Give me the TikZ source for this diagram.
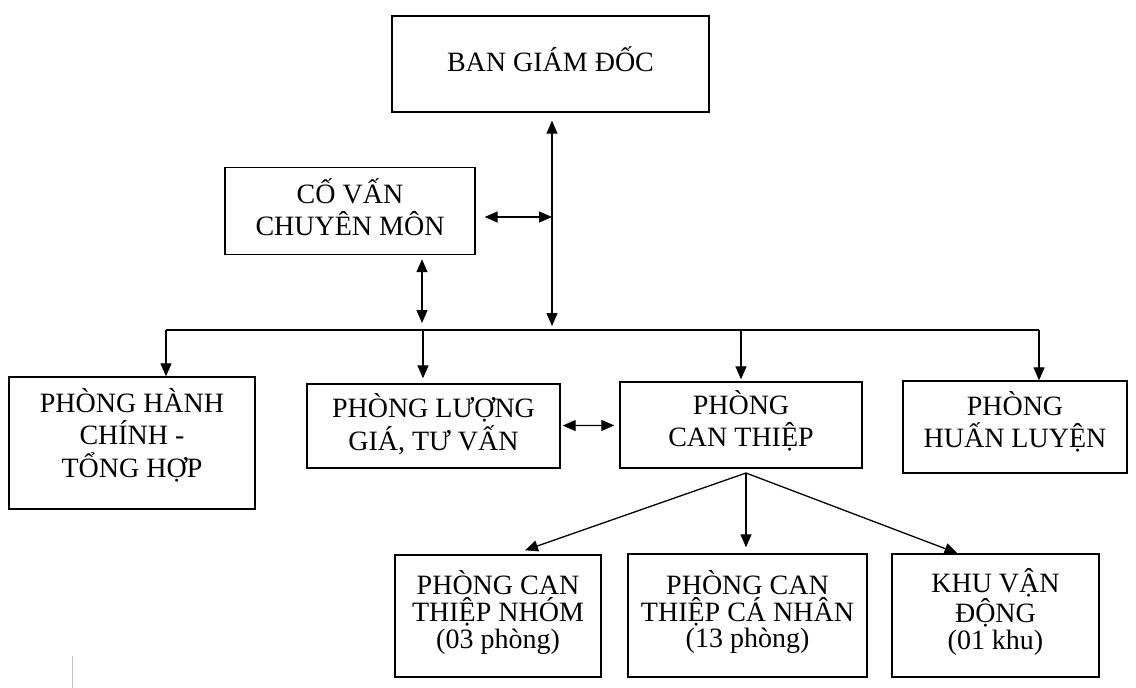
\documentclass[tikz,border=0pt]{standalone}
\usepackage{fontspec}
\setmainfont{Liberation Serif}
\usetikzlibrary{arrows.meta}
\begin{document}
\begin{tikzpicture}[x=1pt,y=-1pt,
    >={Triangle[length=13pt,width=11pt]},
    box/.style={draw,line width=1.4pt,align=center,inner sep=0pt,
      font=\fontsize{28}{32.5}\selectfont},
    smallbox/.style={box,font=\fontsize{28}{26.7}\selectfont,text depth=13pt},
    link/.style={line width=1.3pt}]
  \useasboundingbox (0,0) rectangle (1136,688);
  \draw
    (550.5,64) node[box,minimum width=317pt,minimum height=96pt,text depth=10pt] (bgd) {BAN GIÁM ĐỐC}
    (350,211) node[box,minimum width=250pt,minimum height=87pt,text depth=8pt] (cv) {CỐ VẤN\\CHUYÊN MÔN}
    (132,443) node[box,minimum width=246pt,minimum height=132pt,text depth=21pt] (hc) {PHÒNG HÀNH\\CHÍNH -\\TỔNG HỢP}
    (433.5,426) node[box,minimum width=253pt,minimum height=84pt,text depth=8pt] (lg) {PHÒNG LƯỢNG\\GIÁ, TƯ VẤN}
    (741,425) node[box,minimum width=242pt,minimum height=86pt,text depth=13pt] (ct) {PHÒNG\\CAN THIỆP}
    (1015,427) node[box,minimum width=224pt,minimum height=92pt,text depth=15pt] (hl) {PHÒNG\\HUẤN LUYỆN}
    (498,616) node[smallbox,minimum width=206pt,minimum height=122pt] (ctn) {PHÒNG CAN\\THIỆP NHÓM\\(03 phòng)}
    (747.5,615.5) node[smallbox,minimum width=239pt,minimum height=123pt] (ccn) {PHÒNG CAN\\THIỆP CÁ NHÂN\\(13 phòng)}
    (995.5,615.5) node[smallbox,minimum width=207pt,minimum height=123pt] (kvd) {KHU VẬN\\ĐỘNG\\(01 khu)};
  \coordinate (bus1) at (166,330);
  \coordinate (bus2) at (423,330);
  \coordinate (bus3) at (741,330);
  \coordinate (bus4) at (1039,330);
  \coordinate (spine) at (552,330);
  \coordinate (cvb) at (422,330);
  \coordinate (cvj) at (552,217);
  \coordinate (fork) at (746,473);
  \begin{scope}[link]
    \draw (bus1) to (bus4);
    \draw[<->,shorten <=8pt,shorten >=4pt] (bgd.south -| spine) to (spine);
    \draw[<->,shorten <=9pt] (cv.east |- cvj) to (cvj);
    \draw[<->,shorten <=4pt,shorten >=7pt] (cv.south -| cvb) to (cvb);
    \draw[->] (bus1) to (bus1 |- hc.north);
    \draw[->,shorten >=5pt] (bus2) to (bus2 |- lg.north);
    \draw[->,shorten >=2pt] (bus3) to (bus3 |- ct.north);
    \draw[->] (bus4) to (bus4 |- hl.north);
    \draw[<->,shorten <=2pt,shorten >=5pt] (lg) to (ct);
    \draw[->] (fork) to ([xshift=27pt,yshift=4pt]ctn.north);
    \draw[->,shorten >=6pt] (fork) to (fork |- ccn.north);
    \draw[->] (fork) to ([xshift=-38pt]kvd.north);
  \end{scope}
  \draw[gray!45,line width=1pt] (72,656) -- (72,688);
\end{tikzpicture}
\end{document}
